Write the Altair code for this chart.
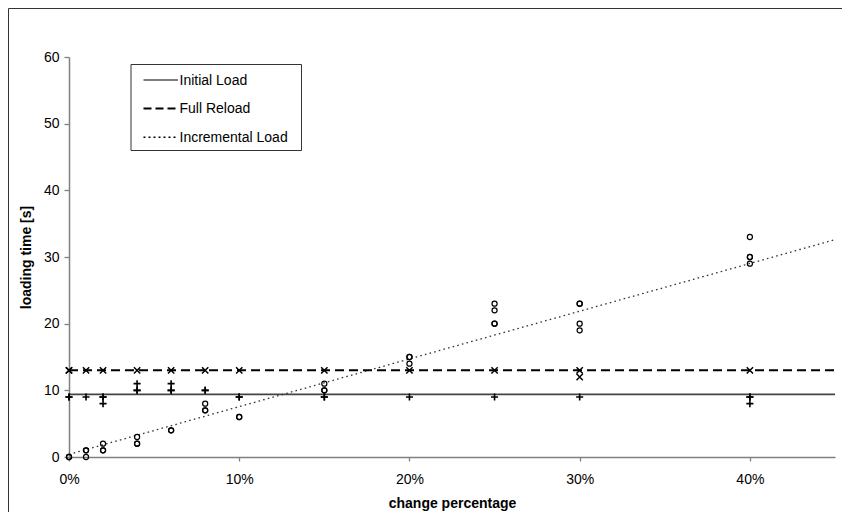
import altair as alt
import pandas as pd

# ---------------- data ----------------
series_names = ["Initial Load", "Full Reload", "Incremental Load"]

# Initial load measurements (+ markers)
initial_x = [0, 0, 1, 2, 2, 2, 4, 4, 4, 6, 6, 6, 8, 8, 10, 10, 15, 15, 20, 25, 30, 40, 40, 40]
initial_y = [9, 9, 9, 9, 9, 8, 10, 10, 11, 10, 10, 11, 10, 10, 9, 9, 9, 9, 9, 9, 9, 9, 9, 8]

# Full reload measurements (x markers)
full_x = [0, 0, 1, 2, 4, 6, 8, 10, 15, 20, 25, 30, 30, 40]
full_y = [13, 13, 13, 13, 13, 13, 13, 13, 13, 13, 13, 13, 12, 13]

# Incremental load measurements (o markers)
inc_x = [0, 0, 1, 1, 1, 2, 2, 2, 4, 4, 4, 6, 6, 8, 8, 8, 10, 10, 15, 15, 15,
         20, 20, 20, 25, 25, 25, 25, 30, 30, 30, 30, 40, 40, 40, 40]
inc_y = [0, 0, 1, 1, 0, 2, 1, 1, 3, 2, 2, 4, 4, 8, 7, 7, 6, 6, 11, 10, 10,
         15, 15, 14, 23, 22, 20, 20, 23, 23, 20, 19, 33, 30, 30, 29]

# fitted lines
line_x = [0, 45]
initial_level = [9.4, 9.4]
full_level = [13.0, 13.0]
inc_trend = [0.4, 32.6]

x_ticks = [0, 10, 20, 30, 40]
y_ticks = [0, 10, 20, 30, 40, 50, 60]

FONT = "Liberation Sans"

# ---------------- chart ----------------
X = alt.X("x:Q",
          scale=alt.Scale(domain=[0, 45], nice=False, zero=True),
          axis=alt.Axis(values=x_ticks, labelExpr="datum.value + '%'", labelFlush=False,
                        title="change percentage", tickSize=4, labelPadding=11,
                        titlePadding=10))
Y = alt.Y("y:Q",
          scale=alt.Scale(domain=[0, 60], nice=False),
          axis=alt.Axis(values=y_ticks, title="loading time [s]", tickSize=5, labelFlush=False,
                        labelPadding=5, titlePadding=10))

plus_path = "M-1,0L1,0M0,-1L0,1"
cross_path = "M-1,-1L1,1M1,-1L-1,1"

df_init = pd.DataFrame({"x": initial_x, "y": initial_y})
df_full = pd.DataFrame({"x": full_x, "y": full_y})
df_inc = pd.DataFrame({"x": inc_x, "y": inc_y})

df_l_init = pd.DataFrame({"x": line_x, "y": initial_level})
df_l_full = pd.DataFrame({"x": line_x, "y": full_level})
df_l_inc = pd.DataFrame({"x": line_x, "y": inc_trend})

one = pd.DataFrame({"a": [0]})

# outer frame (left and top edges; the others fall outside the window)
frame_left = alt.Chart(one).mark_rule(color="#333333", strokeWidth=1).encode(
    x=alt.value(-60.5), y=alt.value(-48.5), y2=alt.value(700))
frame_top = alt.Chart(one).mark_rule(color="#333333", strokeWidth=1).encode(
    x=alt.value(-60.5), x2=alt.value(900), y=alt.value(-48.5))

line_init = alt.Chart(df_l_init).mark_line(color="#444444", strokeWidth=1.8).encode(x=X, y=Y)
line_full = alt.Chart(df_l_full).mark_line(color="black", strokeWidth=2, strokeDash=[9, 5]).encode(x=X, y=Y)
line_inc = alt.Chart(df_l_inc).mark_line(color="#333333", strokeWidth=1.3, strokeDash=[1.6, 3.2]).encode(x=X, y=Y)

pts_init = alt.Chart(df_init).mark_point(shape=plus_path, filled=False, color="black",
                                         strokeWidth=1.6, size=50, opacity=1).encode(x=X, y=Y)
pts_full = alt.Chart(df_full).mark_point(shape=cross_path, filled=False, color="black",
                                         strokeWidth=1.5, size=40, opacity=1).encode(x=X, y=Y)
pts_inc = alt.Chart(df_inc).mark_point(shape="circle", filled=False, color="black",
                                       strokeWidth=1.2, size=26, opacity=1).encode(x=X, y=Y)

# legend box (drawn in plot-area pixel coordinates)
legend_layers = [
    alt.Chart(one).mark_rect(fill="white", stroke="#333333", strokeWidth=1).encode(
        x=alt.value(62), x2=alt.value(232.5), y=alt.value(7.5), y2=alt.value(93.5))
]
dash_styles = [None, [8, 4], [2, 3]]
widths = [1.2, 2, 1.5]
for i, name in enumerate(series_names):
    row_y = 23 + i * 28.6
    kwargs = dict(color="black", strokeWidth=widths[i])
    if dash_styles[i] is not None:
        kwargs["strokeDash"] = dash_styles[i]
    legend_layers.append(
        alt.Chart(one).mark_rule(**kwargs).encode(
            x=alt.value(74.5), x2=alt.value(109), y=alt.value(row_y)))
    legend_layers.append(
        alt.Chart(pd.DataFrame({"label": [name]})).mark_text(
            align="left", baseline="middle", font=FONT, fontSize=14, color="black").encode(
            x=alt.value(110.5), y=alt.value(row_y + 0.5), text="label:N"))

chart = alt.layer(
    frame_left, frame_top, line_init, line_full, line_inc, pts_init, pts_full, pts_inc, *legend_layers
).properties(
    width=766, height=400,
    padding={"left": 61, "top": 49, "right": 7, "bottom": 55},
    autosize=alt.AutoSizeParams(type="none"),
    background="white",
).configure_view(stroke=None).configure_axis(
    grid=False,
    domainColor="#808080", domainWidth=1.5,
    tickColor="#808080", tickWidth=1.3,
    labelFont=FONT, labelFontSize=14, labelColor="black",
    titleFont=FONT, titleFontSize=14, titleFontWeight="bold", titleColor="black",
)

chart.save("out.html", embed_options={"renderer": "svg", "actions": False})
